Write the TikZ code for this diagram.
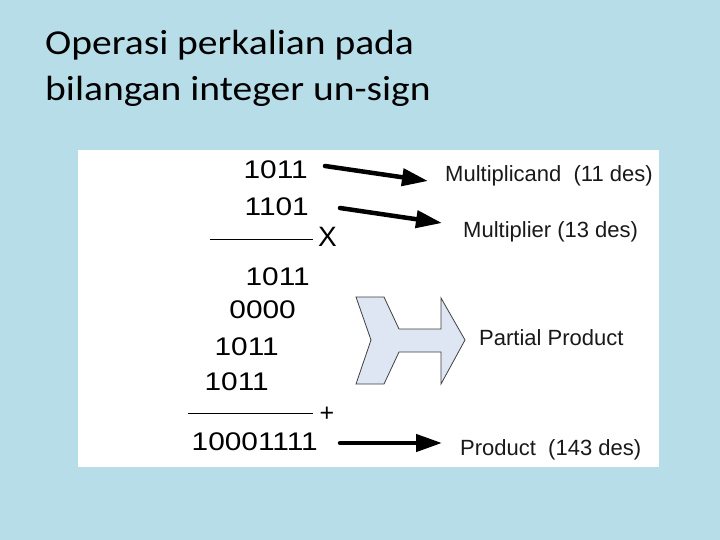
\documentclass[tikz,border=0pt]{standalone}
\usepackage{fontspec}
\usepackage{graphicx}
\setmainfont{Liberation Sans}
\newfontfamily\titlefont{Carlito}
\usetikzlibrary{arrows.meta}
\definecolor{slideblue}{RGB}{183,221,232}
\definecolor{shapefill}{RGB}{221,230,242}
\newcommand{\wnum}[1]{\scalebox{1.17}[1]{#1}}
\newcommand{\wtitle}[1]{\scalebox{1.13}[1]{#1}}
\tikzset{
  num/.style={font=\fontsize{25.5}{25.5}\selectfont, inner sep=0pt, anchor=base east},
  lbl/.style={font=\fontsize{22}{22}\selectfont, inner sep=0pt, anchor=base west, text=black!90},
  ttl/.style={font=\fontsize{35}{35}\selectfont\titlefont, inner sep=0pt, anchor=base west},
  fatarrow/.style={line width=4.5pt, line cap=round, -{Triangle[length=26pt,width=17pt]}}
}
\begin{document}
\begin{tikzpicture}[x=1pt,y=-1pt]
            \fill[slideblue] (0,0) rectangle (720,540);
            \fill[white] (78,150) rectangle (659,467);

            \node[ttl] (title1) at (45,55) {\wtitle{Operasi perkalian pada}};
            \node[ttl] (title2) at (45,101) {\wtitle{bilangan integer un-sign}};

            \node[num] (mcand) at (308,179) {\wnum{1011}};
            \node[num] (mplier) at (309,215) {\wnum{1101}};
            \draw[line width=0.8pt] (210,239) -- (313,239);
            \node[font=\fontsize{28}{28}\selectfont, inner sep=0pt] (times) at (327.5,237) {X};

            \node[num] (pp1) at (310,285) {\wnum{1011}};
            \node[num] (pp2) at (296,318) {\wnum{0000}};
            \node[num] (pp3) at (279,355) {\wnum{1011}};
            \node[num] (pp4) at (269,390) {\wnum{1011}};
            \draw[line width=0.8pt] (188,413) -- (313,413);
            \node[font=\fontsize{25}{25}\selectfont, inner sep=0pt] (plus) at (327,414) {+};
            \node[num] (prod) at (318,450) {\wnum{10001111}};

            \node[lbl] (lmcand) at (445,182) {Multiplicand\ \ (11 des)};
            \node[lbl] (lmplier) at (463,237) {Multiplier (13 des)};
            \node[lbl] (lpartial) at (479,345) {Partial Product};
            \node[lbl] (lprod) at (460,455) {Product\ \ (143 des)};

            \draw[fatarrow] ([shift={(17,-13)}]mcand.base east) -- ([shift={(-17,-1)}]lmcand.base west);
            \draw[fatarrow] ([shift={(31,-7)}]mplier.base east) -- ([shift={(-21,-14)}]lmplier.base west);
            \draw[fatarrow] ([shift={(22,-7)}]prod.base east) -- ([shift={(-18,-12)}]lprod.base west);

            % partial product shape
            \draw[fill=shapefill, draw=black!75, line width=0.8pt, line join=miter]
              (356,297) -- (384,297) -- (399,329) -- (441,329) -- (441,298) -- (465,340)
              -- (441,384) -- (441,352) -- (399,352) -- (384,384) -- (356,384) -- (371,340) -- cycle;

        \end{tikzpicture}
\end{document}
